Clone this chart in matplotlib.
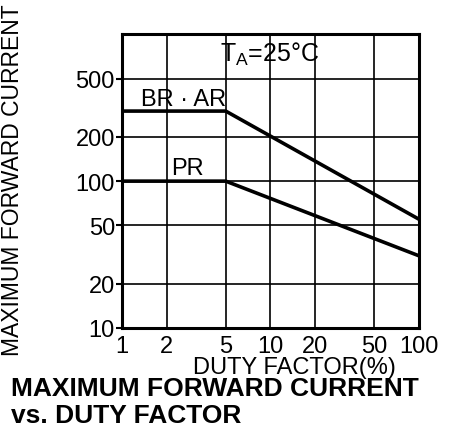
import matplotlib
matplotlib.use("Agg")
import matplotlib.pyplot as plt

plt.rcParams["font.family"] = ["Liberation Sans", "DejaVu Sans"]
plt.rcParams["mathtext.fontset"] = "custom"
plt.rcParams["mathtext.rm"] = "Liberation Sans"

# duty factor (%) and maximum forward current values
duty_br_ar = [1, 5, 100]
current_br_ar = [300, 300, 55]
duty_pr = [1, 5, 100]
current_pr = [100, 100, 31]

x_ticks = [1, 2, 5, 10, 20, 50, 100]
x_tick_labels = ["1", "2", "5", "10", "20", "50", "100"]
y_ticks = [10, 20, 50, 100, 200, 500]
y_tick_labels = ["10", "20", "50", "100", "200", "500"]

fig = plt.figure(figsize=(4.53, 4.39), dpi=100)
ax = fig.add_axes([0.269, 0.2506, 0.656, 0.669])

ax.set_xscale("log")
ax.set_yscale("log")
ax.set_xlim(1, 100)
ax.set_ylim(10, 1000)

ax.set_xticks(x_ticks)
ax.set_xticklabels(x_tick_labels, fontsize=17)
ax.set_yticks(y_ticks)
ax.set_yticklabels(y_tick_labels, fontsize=17)
ax.minorticks_off()
ax.tick_params(axis="x", length=0, pad=5)
ax.tick_params(axis="y", length=4, width=1.5, direction="out", pad=1)

ax.grid(True, which="major", color="black", linewidth=1.2)

for spine in ax.spines.values():
    spine.set_linewidth(2.2)

ax.plot(duty_br_ar, current_br_ar, color="black", linewidth=2.6)
ax.plot(duty_pr, current_pr, color="black", linewidth=2.6)

ax.text(2.6, 365, "BR · AR", fontsize=17, ha="center", va="center")
ax.text(2.75, 122, "PR", fontsize=17, ha="center", va="center")
ax.text(4.6, 740, r"$\mathregular{T_A}$=25°C", fontsize=18, ha="left", va="center")

ax.set_xlabel("DUTY FACTOR(%)", fontsize=17, labelpad=0)
ax.xaxis.set_label_coords(0.58, -0.095)
fig.text(0.027, 0.99, "MAXIMUM FORWARD CURRENT", fontsize=16.5,
         rotation=90, ha="center", va="top")

fig.text(0.025, 0.113, "MAXIMUM FORWARD CURRENT", fontsize=19,
         fontweight="bold", ha="left", va="center")
fig.text(0.025, 0.052, "vs. DUTY FACTOR", fontsize=19,
         fontweight="bold", ha="left", va="center")

fig.savefig("out.png", dpi=100)
